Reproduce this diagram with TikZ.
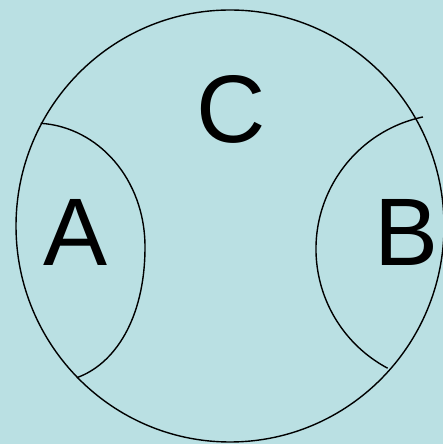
\documentclass[tikz,border=0pt]{standalone}
\usepackage{fontspec}
\setmainfont{Liberation Sans}
\definecolor{bgcol}{RGB}{186,224,227}
\begin{document}
\begin{tikzpicture}[x=1pt,y=1pt,
  outline/.style={draw=black,line width=1.4pt},
  lbl/.style={inner sep=0pt,anchor=base,font=\fontsize{96}{96}\selectfont}]
\fill[bgcol] (0,0) rectangle (443,444);
\useasboundingbox (0,0) rectangle (443,444);
\draw[outline] (230,218) ellipse [x radius=214, y radius=216];
% arc A
\coordinate (a1) at (40.7,320.7);
\coordinate (a2) at (145,197);
\coordinate (a3) at (76.7,66.3);
\draw[outline] (a1) .. controls (98,317) and (145,265) .. (a2)
  .. controls (145,125) and (114.3,79.5) .. (a3);
% arc B
\coordinate (bc) at (451,195);
\draw[outline] ([shift={(102:135)}]bc) arc[start angle=102, end angle=242, radius=135];
\node[lbl] (C) at (231.5,301) {C};
\node[lbl] (A) at (76,178) {A};
\node[lbl] (B) at (406.5,178) {B};
\end{tikzpicture}
\end{document}
